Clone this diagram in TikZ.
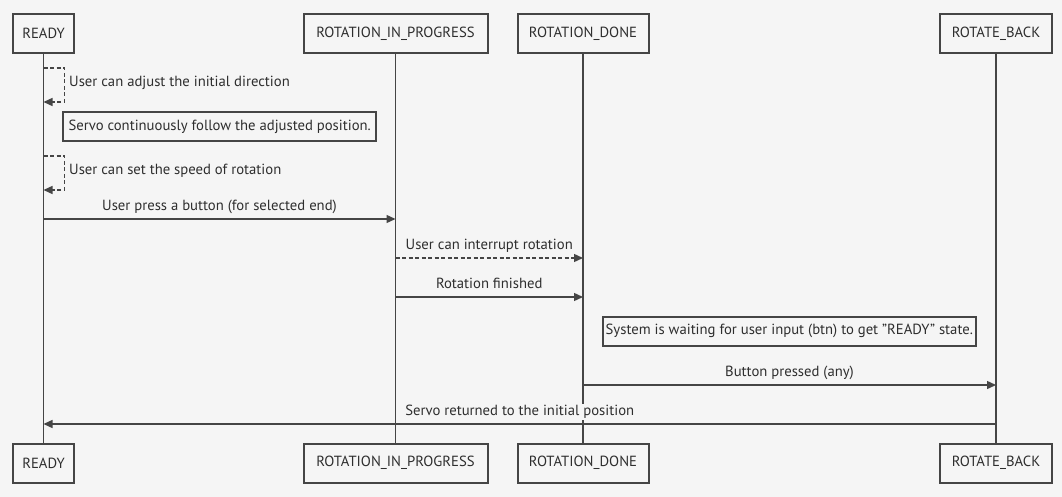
\documentclass[tikz,border=0pt]{standalone}
\usepackage{fontspec}
\setmainfont{PT Sans}
\usetikzlibrary{arrows.meta}
\definecolor{bg}{HTML}{F5F5F5}
\definecolor{ln}{HTML}{454545}
\definecolor{tx}{HTML}{2E2E2E}
\newcommand{\dfont}{\fontsize{14.7}{16}\selectfont}
\tikzset{
  actor/.style={draw=ln, line width=2pt, fill=bg, minimum height=39pt, inner sep=0pt, text=tx, font=\dfont},
  note/.style={draw=ln, line width=2pt, fill=bg, minimum height=29pt, inner sep=0pt, text=tx, font=\dfont},
  life/.style={draw=ln, line width=1.5pt},
  msg/.style={draw=ln, line width=1.4pt, -{Triangle[length=9pt,width=8pt]}},
  dmsg/.style={msg, dash pattern=on 4pt off 2.5pt},
  lbl/.style={text=tx, font=\dfont, fill=bg, inner sep=1pt, text height=10.5pt, text depth=3.5pt},
}
\begin{document}
\begin{tikzpicture}[x=1pt,y=-1pt]
\fill[bg] (0,0) rectangle (1062,497);
\useasboundingbox (0,0) rectangle (1062,497);
% actors top
\node[actor, minimum width=61pt] (r1) at (43.5,33.5) {READY};
\node[actor, minimum width=184pt] (p1) at (395.5,33.5) {ROTATION\_IN\_PROGRESS};
\node[actor, minimum width=131pt] (d1) at (583,33.5) {ROTATION\_DONE};
\node[actor, minimum width=112pt] (b1) at (996,33.5) {ROTATE\_BACK};
% actors bottom
\node[actor, minimum width=61pt] (r2) at (43.5,463) {READY};
\node[actor, minimum width=184pt] (p2) at (395.5,463) {ROTATION\_IN\_PROGRESS};
\node[actor, minimum width=131pt] (d2) at (583,463) {ROTATION\_DONE};
\node[actor, minimum width=112pt] (b2) at (996,463) {ROTATE\_BACK};
% lifelines
\draw[life] (r1.south) -- (r2.north);
\draw[life] (p1.south) -- (p2.north);
\draw[life] (d1.south) -- (d2.north);
\draw[life] (b1.south) -- (b2.north);
% self loops
\coordinate (s1a) at (43.5,68);
\coordinate (s1b) at (43.5,102);
\draw[dmsg] (s1a) -- ++(21,0) |- (s1b);
\node[lbl, anchor=west] (s1l) at (68,83) {User can adjust the initial direction};
\node[note, minimum width=312.7pt] (n1) at (219.7,126.5) {Servo continuously follow the adjusted position.};
\coordinate (s2a) at (43.5,156);
\coordinate (s2b) at (43.5,190);
\draw[dmsg] (s2a) -- ++(21,0) |- (s2b);
\node[lbl, anchor=west] (s2l) at (68,171) {User can set the speed of rotation};
% messages
\coordinate (m1a) at (43.5,219);  \coordinate (m1b) at (395.5,219);
\draw[msg] (m1a) -- node[lbl, above=3pt] (m1l) {User press a button (for selected end)} (m1b);
\coordinate (m2a) at (395.5,258); \coordinate (m2b) at (583,258);
\draw[dmsg] (m2a) -- node[lbl, above=3pt] (m2l) {User can interrupt rotation} (m2b);
\coordinate (m3a) at (395.5,297); \coordinate (m3b) at (583,297);
\draw[msg] (m3a) -- node[lbl, above=3pt] (m3l) {Rotation finished} (m3b);
\node[note, minimum width=373.3pt] (n2) at (789.3,331.2) {System is waiting for user input (btn) to get "READY" state.};
\coordinate (m4a) at (583,385); \coordinate (m4b) at (996,385);
\draw[msg] (m4a) -- node[lbl, above=3pt] (m4l) {Button pressed (any)} (m4b);
\coordinate (m5a) at (996,424); \coordinate (m5b) at (43.5,424);
\draw[msg] (m5a) -- node[lbl, above=3pt] (m5l) {Servo returned to the initial position} (m5b);
\end{tikzpicture}
\end{document}
